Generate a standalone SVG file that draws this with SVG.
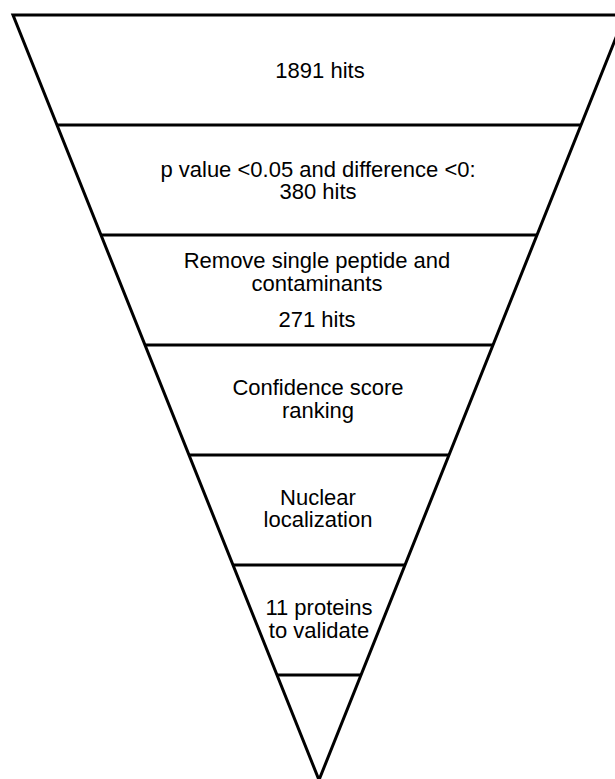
<svg xmlns="http://www.w3.org/2000/svg" width="615" height="779" viewBox="0 0 615 779">
  <style>
    .edge { fill: none; stroke: #000; stroke-width: 3; stroke-linejoin: miter; }
    .div { stroke: #000; stroke-width: 3; }
    .lbl { font-family: "Liberation Sans", Arial, sans-serif; font-size: 22px; fill: #000; text-anchor: middle; }
  </style>
  <rect width="615" height="779" fill="#fff"/>

  <!-- funnel outline and stage dividers -->
  <g id="funnel">
    <polygon class="edge" points="13,15 625,15 319,780"/>
    <line class="div" x1="57" y1="125" x2="581" y2="125"/>
    <line class="div" x1="101" y1="235" x2="537" y2="235"/>
    <line class="div" x1="145" y1="345" x2="493" y2="345"/>
    <line class="div" x1="189" y1="455" x2="449" y2="455"/>
    <line class="div" x1="233" y1="565" x2="405" y2="565"/>
    <line class="div" x1="277" y1="675" x2="361" y2="675"/>
  </g>

  <g id="stage1">
    <text class="lbl" x="320" y="78">1891 hits</text>
  </g>
  <g id="stage2">
    <text class="lbl" x="318" y="177">p value &lt;0.05 and difference &lt;0:</text>
    <text class="lbl" x="318" y="199">380 hits</text>
  </g>
  <g id="stage3">
    <text class="lbl" x="317" y="268">Remove single peptide and</text>
    <text class="lbl" x="317" y="291">contaminants</text>
    <text class="lbl" x="317" y="327">271 hits</text>
  </g>
  <g id="stage4">
    <text class="lbl" x="318" y="395">Confidence score</text>
    <text class="lbl" x="318" y="418">ranking</text>
  </g>
  <g id="stage5">
    <text class="lbl" x="318" y="505">Nuclear</text>
    <text class="lbl" x="318" y="527">localization</text>
  </g>
  <g id="stage6">
    <text class="lbl" x="319" y="615">11 proteins</text>
    <text class="lbl" x="319" y="638">to validate</text>
  </g>
</svg>
